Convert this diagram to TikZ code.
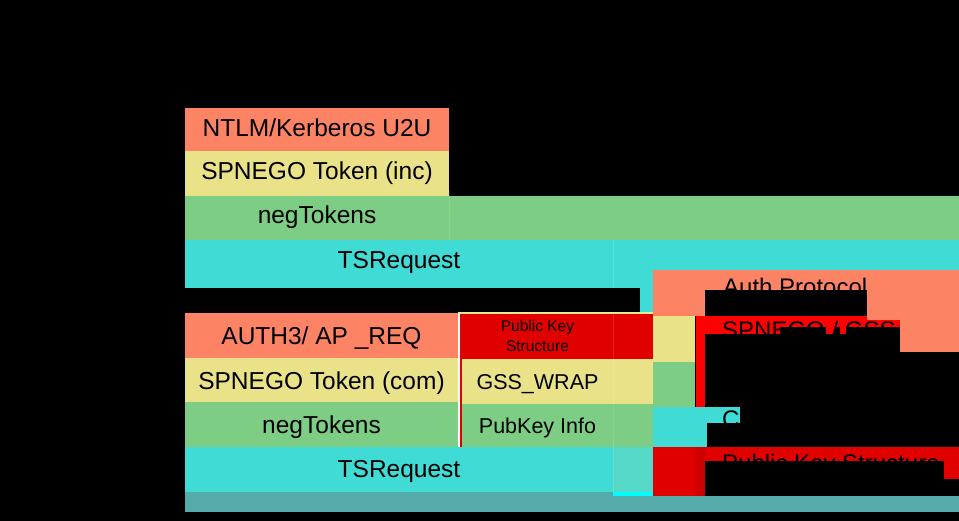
\documentclass[tikz,border=0pt]{standalone}
\usepackage{fontspec}
\setmainfont{Liberation Sans}
\definecolor{salmon}{RGB}{252,132,100}
\definecolor{sand}{RGB}{233,226,136}
\definecolor{leaf}{RGB}{125,205,133}
\definecolor{aqua}{RGB}{64,219,212}
\definecolor{aqualt}{RGB}{85,216,200}
\definecolor{brightcyan}{RGB}{0,255,255}
\definecolor{crimson}{RGB}{224,0,0}
\definecolor{brightred}{RGB}{255,0,0}
\definecolor{tealbar}{RGB}{85,170,170}
\definecolor{pale}{RGB}{240,236,150}
\begin{document}
\begin{tikzpicture}[x=1pt,y=-1pt,
  lbl/.style={font=\fontsize{24.5}{29}\selectfont, anchor=base, inner sep=0pt, text=black},
  mid/.style={font=\fontsize{21.5}{26}\selectfont, anchor=base, inner sep=0pt, text=black},
  small/.style={font=\fontsize{15.5}{19}\selectfont, anchor=base, inner sep=0pt, text=black},
  legend/.style={font=\fontsize{24}{29}\selectfont, anchor=base west, inner sep=0pt, text=black},
  seam/.style={white, opacity=.12, line width=1pt}]
\fill[black] (0,0) rectangle (959,521);
\useasboundingbox (0,0) rectangle (959,521);

% ---- upper stack ----
\fill[salmon] (185,108) rectangle (449,151);
\fill[sand] (185,151) rectangle (449,196);
\fill[leaf] (185,196) rectangle (959,240);
\fill[aqua] (185,240) rectangle (959,270);
\fill[aqua] (185,270) rectangle (640,288);
\fill[aqua] (640,270) rectangle (653,313);
\draw[seam] (613,240) -- (613,288);
\draw[seam] (449,190) -- (449,240);
\node[lbl] (ntlm) at (317,137) {NTLM/Kerberos U2U};
\node[lbl] (spinc) at (317,180) {SPNEGO Token (inc)};
\node[lbl] (negA) at (317,224) {negTokens};
\node[lbl] (tsA) at (399,269) {TSRequest};

% ---- lower stack ----
\fill[salmon] (185,313) rectangle (458,358);
\fill[sand] (185,358) rectangle (458,402);
\fill[leaf] (185,402) rectangle (458,447);
\fill[crimson] (460,313) rectangle (653,359);
\fill[sand] (462,359) rectangle (653,404);
\fill[leaf] (462,404) rectangle (653,447);
\fill[crimson] (460,359) rectangle (462,447);
\fill[white] (458,313) rectangle (460,447);
\fill[pale] (458,312.5) rectangle (653,314);
\fill[aqua] (185,447) rectangle (613,492);
\fill[aqualt] (613,447) rectangle (653,492);
\fill[tealbar] (185,492) rectangle (959,512);
\fill[brightcyan] (613,492) rectangle (653,496);
\draw[seam] (613,313) -- (613,492);
\node[lbl] (auth) at (321.5,345) {AUTH3/ AP \_REQ};
\node[lbl] (spcom) at (321.5,390) {SPNEGO Token (com)};
\node[lbl] (negB) at (321.5,433) {negTokens};
\node[lbl] (tsB) at (399,477) {TSRequest};
\node[small] (pkA) at (537.5,331.5) {Public Key};
\node[small] (pkB) at (537.5,351.5) {Structure};
\node[mid] (gss) at (537.5,390) {GSS\_WRAP};
\node[mid] (pub) at (537.5,433) {PubKey Info};

% ---- legend ----
\fill[salmon] (653,270) rectangle (959,316);
\fill[sand] (653,316) rectangle (695,362);
\fill[leaf] (653,362) rectangle (695,407);
\fill[aqua] (653,407) rectangle (707,447);
\fill[aqua] (707,407) rectangle (740,423);
\fill[brightred] (696,316) rectangle (900,334);
\fill[brightred] (696,316) rectangle (705,407);
\fill[salmon] (867,316) rectangle (959,320);
\fill[salmon] (900,316) rectangle (959,352);
\fill[crimson] (653,447) rectangle (959,496);
\fill[crimson!92!black] (695,447) rectangle (705,496);
% black text boxes
\fill[black] (705,290) rectangle (867,316);
\fill[black] (705,334) rectangle (780,352);
\fill[black] (780,327) rectangle (826,352);
\fill[black] (835,327) rectangle (840,352);
\fill[black] (846,327) rectangle (900,352);
\fill[black] (705,461) rectangle (944,496);
\fill[black] (944,479) rectangle (959,496);
\node[legend] (lgA) at (723,296) {Auth Protocol};
\node[legend] (lgB) at (722,339) {SPNEGO / GSS};
\node[legend] (lgC) at (722,427) {CredSSP};
\node[legend] (lgD) at (722,471) {Public Key Structure};
\end{tikzpicture}
\end{document}
